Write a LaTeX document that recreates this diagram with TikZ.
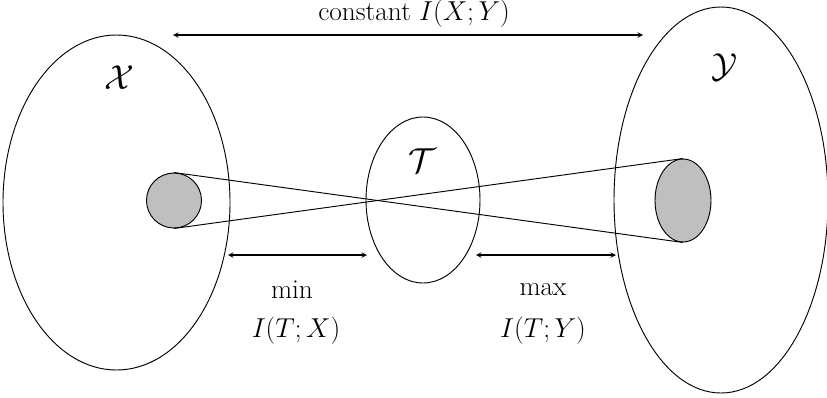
\RequirePackage{fix-cm}
\documentclass[tikz,border=0pt]{standalone}
\usepackage{fontspec}
\usetikzlibrary{shapes.geometric}

\begin{document}
\begin{tikzpicture}[x=0.75pt,y=-0.75pt,>=stealth,
  set/.style={draw,ellipse,line width=0.7pt,inner sep=0pt},
  blob/.style={set,fill=gray!50},
  lbl/.style={font=\fontsize{20.5}{24}\selectfont},
  cal/.style={font=\fontsize{26}{30}\selectfont}]
  \useasboundingbox (0,0) rectangle (827,397);
  % the three sets
  \node[set,minimum width=170.25pt,minimum height=251.25pt] (X) at (116.5,202.5) {};
  \node[set,minimum width=85.5pt,minimum height=124.5pt] (T) at (423,200) {};
  \node[set,minimum width=160.5pt,minimum height=289.5pt] (Y) at (721,200) {};
  \node[cal] (Xl) at (119,78) {$\mathcal{X}$};
  \node[cal] (Tl) at (422,161) {$\mathcal{T}$};
  \node[cal] (Yl) at (724,67) {$\mathcal{Y}$};
  % the two blobs and the cone between them
  \node[blob,minimum width=41.25pt,minimum height=41.25pt] (x) at (174,200.5) {};
  \node[blob,minimum width=42pt,minimum height=62.25pt] (y) at (683,200.5) {};
  \draw[line width=0.7pt] (x.north) -- (y.south);
  \draw[line width=0.7pt] (x.south) -- (y.north);
  % arrows
  \coordinate (c1) at (173,35); \coordinate (c2) at (643,35);
  \coordinate (m1) at (228,255); \coordinate (m2) at (367,255);
  \coordinate (n1) at (476,255); \coordinate (n2) at (616,255);
  \draw[<->,line width=0.8pt] (c1) -- (c2);
  \draw[<->,line width=0.8pt] (m1) -- (m2);
  \draw[<->,line width=0.8pt] (n1) -- (n2);
  \node[lbl] (cI) at (414,14) {constant $I(X;Y)$};
  \node[lbl] (mn) at (292,290) {min};
  \node[lbl] (mI) at (296,331) {$I(T;X)$};
  \node[lbl] (mx) at (543,290) {max};
  \node[lbl] (xI) at (543,331) {$I(T;Y)$};
\end{tikzpicture}
\end{document}
